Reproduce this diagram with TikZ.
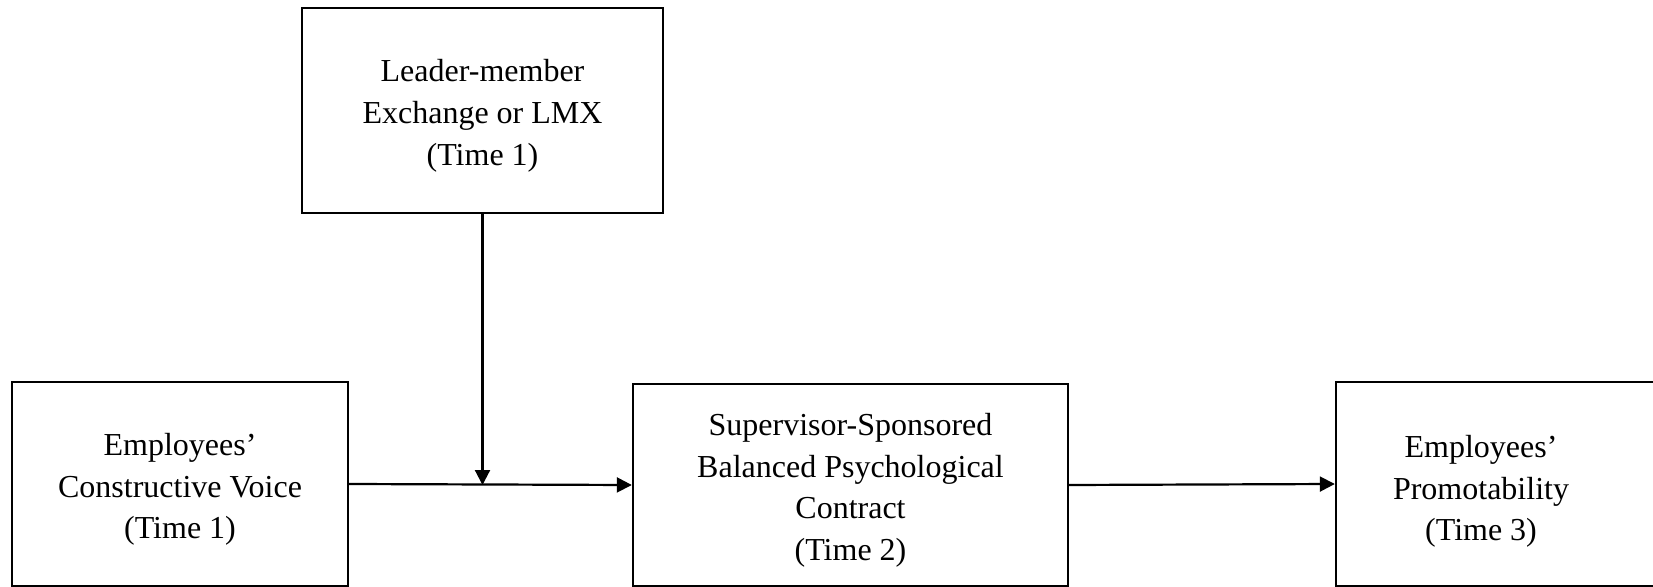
\documentclass[tikz,border=0pt]{standalone}
\usepackage{fontspec}
\setmainfont{Liberation Serif}
\usetikzlibrary{arrows.meta}
\newcommand{\topstrut}{\rule{0pt}{16.5pt}}
\begin{document}
\begin{tikzpicture}[x=0.5pt,y=-0.5pt,
  box/.style={draw,line width=1.2pt,inner sep=0pt},
  lbl/.style={align=center,font=\fontsize{16}{20.8}\selectfont},
  conn/.style={line width=1.1pt,-{Triangle[length=7.5pt,width=7.5pt]}}]
\useasboundingbox (0,0) rectangle (1653,587);
\node[box,lbl,minimum width=180.5pt,minimum height=102.5pt] (lmx) at (482.5,110.5) {\topstrut Leader-member\\Exchange or LMX\\(Time 1)};
\node[box,lbl,minimum width=168pt,minimum height=102pt] (voice) at (180,484) {\topstrut Employees’\\Constructive Voice\\(Time 1)};
\node[box,lbl,minimum width=217.5pt,minimum height=101pt] (spbpc) at (850.5,485) {\topstrut Supervisor-Sponsored\\Balanced Psychological\\Contract\\(Time 2)};
\node[box,minimum width=182pt,minimum height=102pt] (rbox) at (1518,484) {};
\node[lbl] (promtext) at (1481,486) {\topstrut Employees’\\Promotability\\(Time 3)};
\coordinate (mid) at (482.5,485);
\draw[conn] (voice.east) -- (spbpc.west);
\draw[conn] (lmx.south) -- (mid);
\draw[conn] (spbpc.east) -- (rbox.west);
\end{tikzpicture}
\end{document}
